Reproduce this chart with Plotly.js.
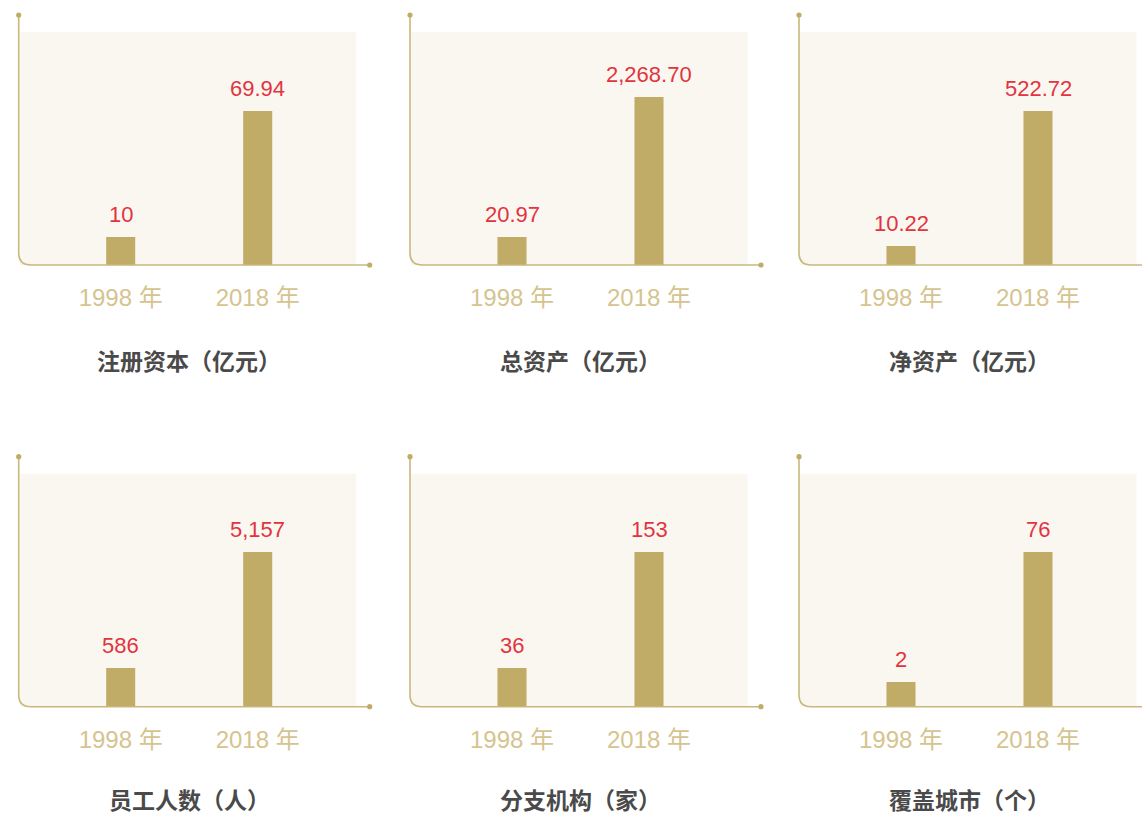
<!DOCTYPE html>
<html>
<head>
<meta charset="utf-8">
<script src="https://cdn.plot.ly/plotly-3.0.1.min.js"></script>
<style>
html, body { margin: 0; padding: 0; background: #ffffff; }
#chart { width: 1142px; height: 816px; }
</style>
</head>
<body>
<div id="chart"></div>
<script>
// ---------------- data ----------------
const years = ["1998 年", "2018 年"];
const panelTitles = ["注册资本（亿元）", "总资产（亿元）", "净资产（亿元）", "员工人数（人）", "分支机构（家）", "覆盖城市（个）"];
const values1998 = [10, 20.97, 10.22, 586, 36, 2];
const values2018 = [69.94, 2268.70, 522.72, 5157, 153, 76];
const labels1998 = ["10", "20.97", "10.22", "586", "36", "2"];
const labels2018 = ["69.94", "2,268.70", "522.72", "5,157", "153", "76"];

// ---------------- layout / style config ----------------
const W = 1142, H = 816;
const colAxisX = [18.7, 410, 799];     // px of each column's vertical axis line
const rowBase = [265, 706.7];          // px of each row's baseline
const rowTopDot = [15, 456.7];         // px of top dot of the vertical line
const rowPlotTop = [32, 473.7];        // px of top of shaded plot area
const rowTitleY = [360, 798.5];        // px of panel title centre
const catOffset = 102, catStep = 137;  // px from axis line to first category, px per category
const plotWidth = 337.5;
// per-panel log-axis ranges (log10 units)
const logRanges = [[0.8123, 2.3744], [0.9148, 4.3002], [0.7690, 3.7182],
                   [2.4528, 4.3499], [1.3467, 2.6089], [0.0009, 2.8323]];

const barColor = "#c1ac67";
const lineColor = "#c9b87c";
const labelColor = "#e2343f";
const tickColor = "#d5c48f";
const titleColor = "#4a4a4a";
const bgColor = "#faf7f1";
const numFont = "Liberation Sans, Arial, Noto Sans CJK SC, sans-serif";
const tickFontFamily = "Liberation Sans, Arial, Noto Sans CJK SC, sans-serif";
const cjkFont = "Noto Sans CJK SC, Liberation Sans, sans-serif";

const px = x => x / W;
const py = y => 1 - y / H;

const traces = [];
const layout = {
  width: W, height: H,
  margin: {l: 0, r: 0, t: 0, b: 0, pad: 0},
  paper_bgcolor: "#ffffff",
  plot_bgcolor: bgColor,
  showlegend: false,
  bargap: 0.788,
  hovermode: false,
  annotations: [],
  shapes: []
};

for (let i = 0; i < 6; i++) {
  const k = i + 1;
  const suf = k === 1 ? "" : String(k);
  const row = Math.floor(i / 3), col = i % 3;
  const ax = colAxisX[col];
  const base = rowBase[row];
  const domL = ax + 1;
  const domR = Math.min(ax + plotWidth, W);
  const cat0 = ax + catOffset;

  traces.push({
    type: "bar",
    x: years,
    y: [values1998[i], values2018[i]],
    xaxis: "x" + suf,
    yaxis: "y" + suf,
    marker: {color: barColor, line: {width: 0}},
    hoverinfo: "skip"
  });

  layout["xaxis" + suf] = {
    domain: [px(domL), px(domR)],
    anchor: "y" + suf,
    type: "category",
    range: [(domL - cat0) / catStep, (domR - cat0) / catStep],
    showgrid: false, zeroline: false, showline: false,
    ticks: "",
    ticklabelstandoff: 16,
    tickfont: {family: tickFontFamily, size: 24, color: tickColor},
    fixedrange: true
  };
  layout["yaxis" + suf] = {
    domain: [py(base), py(rowPlotTop[row])],
    anchor: "x" + suf,
    type: "log",
    range: logRanges[i],
    visible: false,
    showgrid: false, zeroline: false,
    fixedrange: true
  };

  // value labels above bars
  const vals = [values1998[i], values2018[i]];
  const labs = [labels1998[i], labels2018[i]];
  for (let j = 0; j < 2; j++) {
    layout.annotations.push({
      xref: "x" + suf, yref: "y" + suf,
      x: years[j], y: Math.log10(vals[j]),
      text: labs[j],
      showarrow: false,
      yanchor: "bottom", xanchor: "center",
      yshift: 8,
      font: {family: numFont, size: 22, color: labelColor}
    });
  }

  // panel title
  layout.annotations.push({
    xref: "x" + suf, yref: "paper",
    x: 0.5, y: py(rowTitleY[row]),
    text: "<b>" + panelTitles[i] + "</b>",
    showarrow: false,
    xanchor: "center", yanchor: "middle",
    font: {family: cjkFont, size: 23, color: titleColor}
  });

  // axis line with rounded corner
  const r = 12;
  const xEnd = ax + 351;
  const path = "M " + px(ax) + "," + py(rowTopDot[row]) +
               " L " + px(ax) + "," + py(base - r) +
               " Q " + px(ax) + "," + py(base) + " " + px(ax + r) + "," + py(base) +
               " L " + px(xEnd) + "," + py(base);
  layout.shapes.push({
    type: "path", xref: "paper", yref: "paper", path: path,
    line: {color: lineColor, width: 1.6}, layer: "above"
  });
  const dr = 2.6;
  [[ax, rowTopDot[row]], [xEnd, base]].forEach(p => {
    layout.shapes.push({
      type: "circle", xref: "paper", yref: "paper",
      x0: px(p[0] - dr), x1: px(p[0] + dr), y0: py(p[1] + dr), y1: py(p[1] - dr),
      fillcolor: barColor, line: {width: 0}, layer: "above"
    });
  });
}

Plotly.newPlot("chart", traces, layout, {displayModeBar: false, staticPlot: true});
</script>
</body>
</html>
